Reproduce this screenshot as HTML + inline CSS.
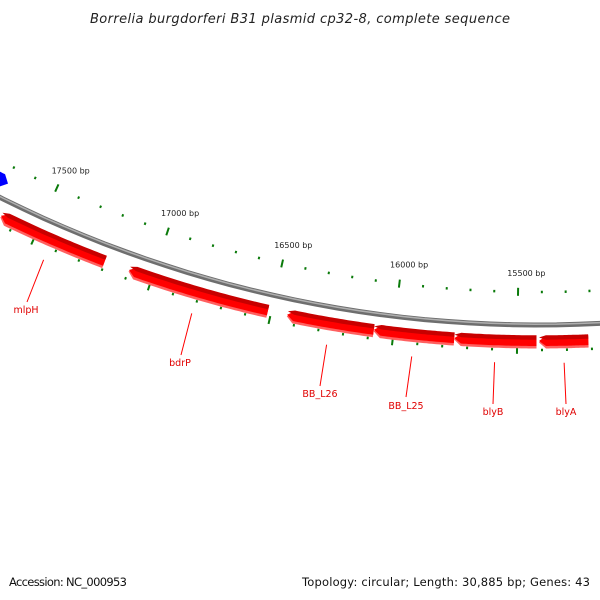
<!DOCTYPE html>
<html><head><meta charset="utf-8"><style>
body{margin:0;background:#fff;}
svg{display:block;font-family:"DejaVu Sans","Liberation Sans",sans-serif;}
</style></head><body>
<svg id="map" width="600" height="600" viewBox="0 0 600 600">
<text x="90" y="23" textLength="420" font-size="13" font-style="italic" fill="#222">Borrelia burgdorferi B31 plasmid cp32-8, complete sequence</text>
<g id="ticks"></g>
<g id="backbone"></g>
<g id="genes"></g>
<text x="9" y="586" textLength="118" font-size="11.5" fill="#111">Accession: NC_000953</text>
<text x="302" y="586" textLength="288" font-size="11.5" fill="#111">Topology: circular; Length: 30,885 bp; Genes: 43</text>
</svg>
<script>
const seqLength = 30885;
const geneNames = ["mlpH","bdrP","BB_L26","BB_L25","blyB","blyA"];
const geneStarts = [17659,17098,16435,16080,15754,15412];
const geneEnds = [17202,16514,16080,15754,15422,15213];
const blueStart = 17850;
const blueEnd = 17692;
const tickLabels = [15500,16000,16500,17000,17500];
const minorRange = [15000, 18100];

const NS="http://www.w3.org/2000/svg";
const cx=539, cy=-878, b0=15412, k=2*Math.PI/seqLength;
const Rb=1203, Ro=1170, Ri=1228;
function ang(bp){return -(bp-b0)*k;}
function pt(bp,r){const t=ang(bp);return [cx+r*Math.sin(t), cy+r*Math.cos(t)];}
function mk(tag,attrs,parent){const e=document.createElementNS(NS,tag);for(const a in attrs)e.setAttribute(a,attrs[a]);parent.appendChild(e);return e;}
function arcPath(b1,b2,r){let d="";const n=40;for(let i=0;i<=n;i++){const p=pt(b1+(b2-b1)*i/n,r);d+=(i?"L":"M")+p[0].toFixed(1)+","+p[1].toFixed(1);}return d;}

const bb=document.getElementById('backbone');
const bo=mk('path',{d:arcPath(18400,14800,Rb),fill:'none',stroke:'#6e6e6e','stroke-width':5},bb);


const bi=mk('path',{d:arcPath(18400,14800,Rb-0.8),fill:'none',stroke:'#b0b0b0','stroke-width':1.5},bb);



const tg=document.getElementById('ticks');
for(let bp=minorRange[0];bp<=minorRange[1];bp+=100){
  const major=bp%500===0;
  const len=major?8:2.5;
  [Ro,Ri].forEach(r=>{
    const a=pt(bp,r-len/2),b=pt(bp,r+len/2);
    const l=mk('line',{x1:a[0],y1:a[1],x2:b[0],y2:b[1],stroke:'#0a7a0a','stroke-width':2},tg);
    
    
  });
}
tickLabels.forEach(bp=>{
  const p=pt(bp,Ro-14);
  const t=mk('text',{x:p[0]-11,y:p[1]-2,'font-size':8,fill:'#222'},tg);
  t.textContent=bp+" bp";
  
  
});

const gg=document.getElementById('genes');
const gr=Rb+16, hw=6, head=28;
function arrowPoly(s,e,r,w){
  const tip=s, body=s+(e>s?head:-head);
  let pts=[];const n=30;
  for(let i=0;i<=n;i++)pts.push(pt(body+(e-body)*i/n,r-w));
  for(let i=n;i>=0;i--)pts.push(pt(body+(e-body)*i/n,r+w));
  pts.push(pt(tip,r));
  return "M"+pts.map(p=>p[0].toFixed(1)+","+p[1].toFixed(1)).join("L")+"Z";
}
const labelPos=[[27,302,26,313],[181,355,180,366],[320,386,320,397],[406,397,406,409],[493,404,493,415],[566,404,566,415]];
geneNames.forEach((name,i)=>{
  const s=geneStarts[i],e=geneEnds[i];
  const g=mk('g',{},gg);
  
  
  mk('path',{d:arrowPoly(s,e,gr+1.5,hw),fill:'#ff6060'},g);
  mk('path',{d:arrowPoly(s,e,gr,hw-1),fill:'#ff0000'},g);
  mk('path',{d:arrowPoly(s,e,gr-3.5,2.2),fill:'#c80000'},g);
  const mid=(s+e)/2;const a=pt(mid,gr+22);const lp=labelPos[i];
  const ln=mk('line',{x1:a[0],y1:a[1],x2:lp[0],y2:lp[1],stroke:'#ff0000','stroke-width':1},g);
  
  
  const t=mk('text',{x:lp[2],y:lp[3],'text-anchor':'middle','font-size':9.5,fill:'#e00000'},g);
  t.textContent=name;
  
  
});
const blue=mk('path',{d:arrowPoly(blueEnd,blueStart,Rb-16,7),fill:'#0000ff'},gg);


</script>
</body></html>
